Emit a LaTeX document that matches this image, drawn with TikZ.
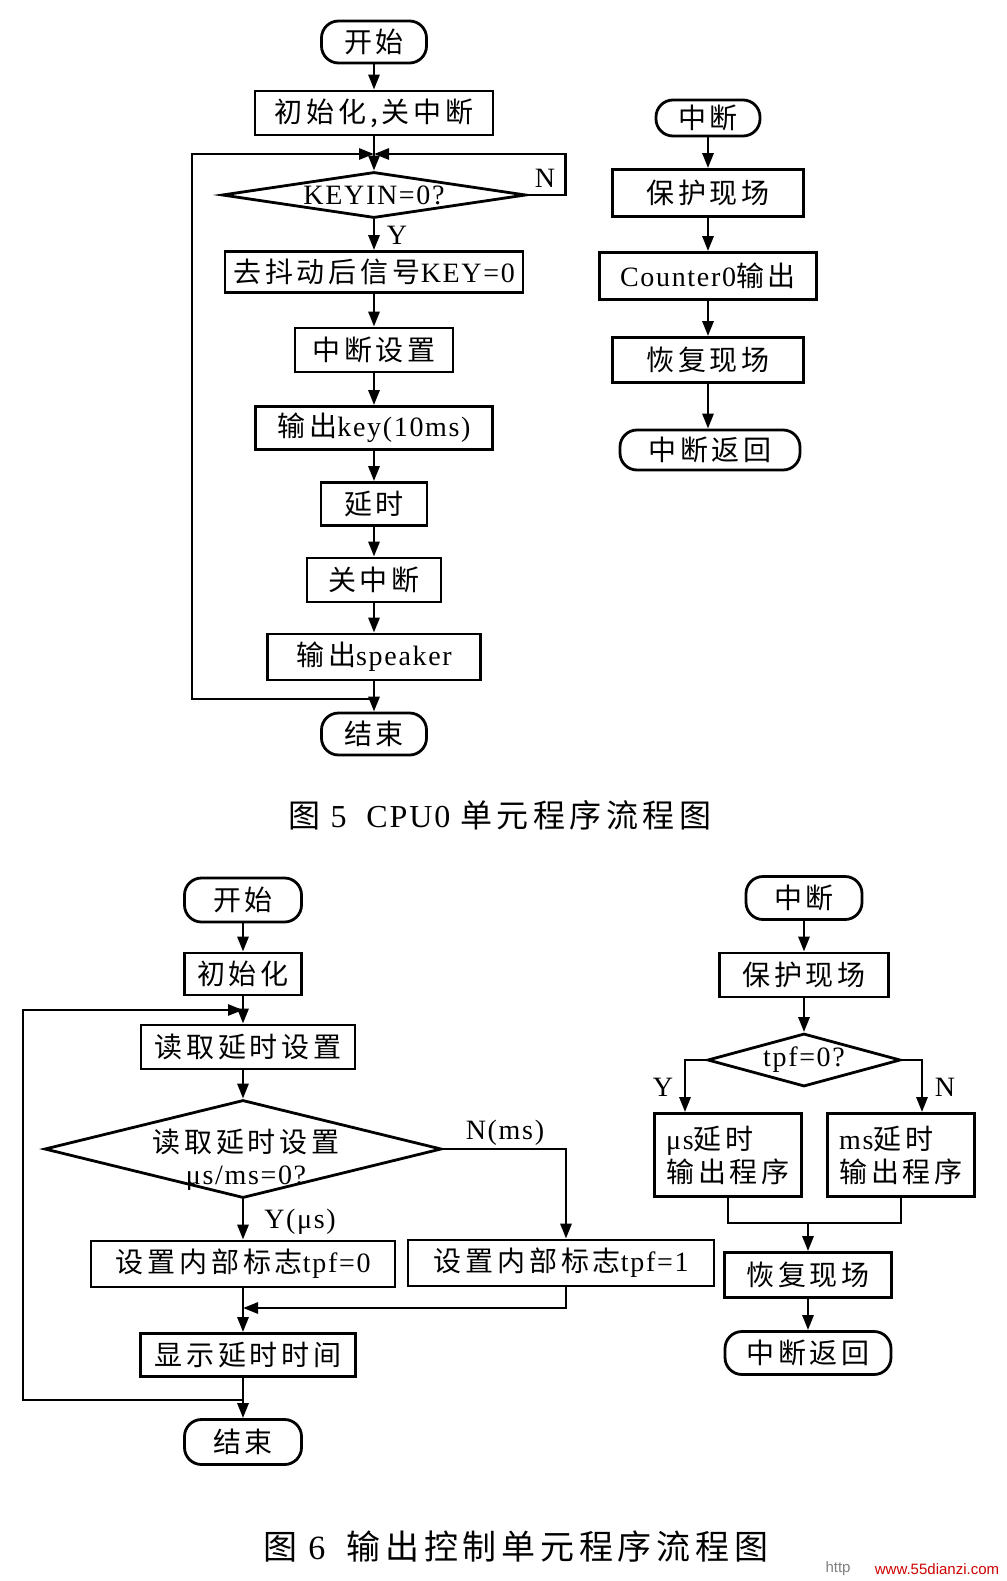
\documentclass[tikz,border=0pt]{standalone}
\usepackage{fontspec}
\setmainfont{Liberation Serif}[LetterSpace=6]
\newfontfamily\cjk{Noto Sans CJK SC}[LetterSpace=14]
\newfontfamily\wmfont{Liberation Sans}
\newcommand{\zh}[1]{{\cjk #1}}
\usetikzlibrary{shapes.geometric,arrows.meta}

\tikzset{
  box/.style={draw, line width=2.8pt, inner sep=0pt, minimum height=44pt,
    font=\fontsize{28}{33}\selectfont, align=center},
  term/.style={box, rounded corners=17pt},
  cond/.style={draw, diamond, line width=2.8pt, inner sep=-6pt,
    font=\fontsize{28}{32}\selectfont, align=center},
  arr/.style={line width=2.8pt, -{Triangle[length=15pt,width=11pt]}},
  ln/.style={line width=2.8pt},
  lbl/.style={font=\fontsize{28}{32}\selectfont, inner sep=0pt},
  captxt/.style={inner sep=0pt}
}

\begin{document}
\begin{tikzpicture}[x=1pt,y=-1pt]
\useasboundingbox (0,0) rectangle (1006,1581);
\fill[white] (0,0) rectangle (1006,1581);

% ---- figure 5, main program
\node[term, minimum width=105pt, minimum height=42pt] (start5) at (374,42) {\zh{开始}};
\node[box, minimum width=238pt] (init5) at (374,113) {\zh{初始化,关中断}};
\coordinate (m5) at (374,154);
\node[cond, aspect=6.6, minimum width=304pt, minimum height=46pt] (keyin) at (374,195) {KEYIN=0?};
\node[box, minimum width=298pt, minimum height=41pt] (debounce) at (374,272) {\zh{去抖动后信号}KEY=0};
\node[box, minimum width=158pt] (intset) at (374,350) {\zh{中断设置}};
\node[box, minimum width=237pt, minimum height=43pt] (outkey) at (374,428) {\zh{输出}key(10ms)};
\node[box, minimum width=106pt, minimum height=43pt] (delay5) at (374,504) {\zh{延时}};
\node[box, minimum width=134pt] (intoff) at (374,580) {\zh{关中断}};
\node[box, minimum width=213pt, minimum height=46pt] (outspk) at (374,657) {\zh{输出}speaker};
\coordinate (back5) at (374,699);
\node[term, minimum width=105pt, minimum height=42pt] (end5) at (374,734) {\zh{结束}};
\coordinate (lp5) at (192,154);

\draw[arr] (start5) -- (init5);
\draw[arr] (init5) -- (keyin);
\draw[arr] (keyin.east) -- ++(38,0) |- (m5);
\draw[arr] (keyin) -- (debounce);
\draw[arr] (debounce) -- (intset);
\draw[arr] (intset) -- (outkey);
\draw[arr] (outkey) -- (delay5);
\draw[arr] (delay5) -- (intoff);
\draw[arr] (intoff) -- (outspk);
\draw[arr] (outspk) -- (end5);
\draw[arr] (back5) -| (lp5) -- (m5);
\node[lbl] (n5) at (545,178) {N};
\node[lbl] (y5) at (397,235) {Y};

% ---- figure 5, interrupt
\node[term, minimum width=104pt, minimum height=36pt] (int5) at (708,118) {\zh{中断}};
\node[box, minimum width=191pt, minimum height=47pt] (protect5) at (708,193) {\zh{保护现场}};
\node[box, minimum width=217pt, minimum height=47pt] (counter) at (708,276) {Counter0\zh{输出}};
\node[box, minimum width=191pt, minimum height=45pt] (restore5) at (708,360) {\zh{恢复现场}};
\node[term, minimum width=180pt, minimum height=40pt] (ret5) at (710,450) {\zh{中断返回}};

\draw[arr] (int5) -- (protect5);
\draw[arr] (protect5) -- (counter);
\draw[arr] (counter) -- (restore5);
\draw[arr] (restore5) -- (ret5.north -| restore5);

\node[captxt, font=\fontsize{32}{36}\selectfont] (cap5) at (500,815) {\zh{图} 5 \ CPU0 \zh{单元程序流程图}};

% ---- figure 6, main program
\node[term, minimum width=117pt, minimum height=44pt] (start6) at (243,900) {\zh{开始}};
\node[box, minimum width=117pt, minimum height=42pt] (init6) at (243,974) {\zh{初始化}};
\coordinate (m6) at (243,1010);
\node[box, minimum width=214pt] (read6) at (248,1047) {\zh{读取延时设置}};
\node[cond, aspect=4, minimum width=397pt, minimum height=98pt] (dec6) at (243,1149) {};
\node[lbl, align=center] (dec6txt) at (246,1160) {\zh{读取延时设置}\\μs/ms=0?};
\node[box, minimum width=304pt, minimum height=46pt] (tpf0) at (243,1264) {\zh{设置内部标志}tpf=0};
\node[box, minimum width=306pt, minimum height=46pt] (tpf1) at (561,1263) {\zh{设置内部标志}tpf=1};
\coordinate (m6b) at (243,1308);
\node[box, minimum width=215pt, minimum height=43pt] (show6) at (248,1355) {\zh{显示延时时间}};
\coordinate (back6) at (243,1400);
\node[term, minimum width=117pt, minimum height=45pt] (end6) at (243,1442) {\zh{结束}};
\coordinate (lp6) at (23,1010);

\draw[arr] (start6) -- (init6);
\draw[arr] (init6) -- (m6 |- read6.north);
\draw[arr] (read6.south -| dec6) -- (dec6);
\draw[arr] (dec6) -- (tpf0);
\draw[arr] (dec6.east) -| ([xshift=5pt]tpf1.north);
\draw[ln] (tpf0) -- (m6b);
\draw[arr] ([xshift=5pt]tpf1.south) |- (m6b);
\draw[arr] (m6b) -- (m6b |- show6.north);
\draw[arr] (show6.south -| end6) -- (end6);
\draw[arr] (back6) -| (lp6) -- (m6);
\node[lbl] (y6) at (300,1222) {Y(μs)};
\node[lbl] (n6) at (505,1133) {N(ms)};

% ---- figure 6, interrupt
\node[term, minimum width=116pt, minimum height=43pt] (int6) at (804,898) {\zh{中断}};
\node[box, minimum width=169pt] (protect6) at (804,975) {\zh{保护现场}};
\node[cond, aspect=3.6, minimum width=193pt, minimum height=53pt] (dec6r) at (804,1060) {tpf=0?};
\node[box, align=left, minimum width=147pt, minimum height=83pt] (mus) at (728,1155) {μs\zh{延时}\\\zh{输出程序}};
\node[box, align=left, minimum width=147pt, minimum height=83pt] (msd) at (901,1155) {ms\zh{延时}\\\zh{输出程序}};
\coordinate (m6r) at (808,1223);
\node[box, minimum width=167pt, minimum height=45pt] (restore6) at (808,1275) {\zh{恢复现场}};
\node[term, minimum width=166pt, minimum height=43pt] (ret6) at (808,1353) {\zh{中断返回}};

\draw[arr] (int6) -- (protect6);
\draw[arr] (protect6) -- (dec6r);
\draw[arr] (dec6r.west) -| ([xshift=-43pt]mus.north);
\draw[arr] (dec6r.east) -| ([xshift=21pt]msd.north);
\draw[ln] (mus.south) |- (m6r);
\draw[ln] (msd.south) |- (m6r);
\draw[arr] (m6r) -- (restore6);
\draw[arr] (restore6) -- (ret6);
\node[lbl] (y6r) at (663,1087) {Y};
\node[lbl] (n6r) at (945,1087) {N};

\node[captxt, font=\fontsize{34}{38}\selectfont] (cap6) at (516,1547) {\zh{图} 6 \ \zh{输出控制单元程序流程图}};

% watermark
\node[captxt, font=\wmfont\fontsize{15}{17}\selectfont, text=gray] (wm1) at (838,1569) {http};
\node[captxt, font=\wmfont\fontsize{15}{17}\selectfont, text=red!80!black] (wm2) at (937,1569) {www.55dianzi.com};
\end{tikzpicture}
\end{document}
